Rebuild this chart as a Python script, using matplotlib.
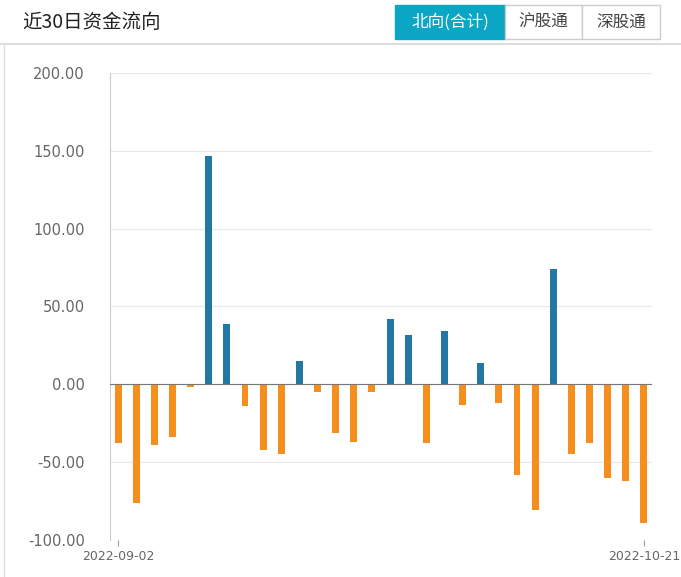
import matplotlib.pyplot as plt
from matplotlib.patches import Rectangle

plt.rcParams['font.family'] = ['Noto Sans CJK SC', 'DejaVu Sans']

values = [-38, -76, -39, -34, -2, 147, 39, -14, -42, -45, 15, -5, -31, -37, -5,
          42, 32, -38, 34, -13, 14, -12, -58, -81, 74, -45, -38, -60, -62, -89]
yticks = [-100, 0, 50, 100, 150, 200]
first_date = '2022-09-02'
last_date = '2022-10-21'

fig = plt.figure(figsize=(6.81, 5.77), dpi=100)
ax = fig.add_axes([110/681, 1-540/577, 542/681, 467/577])

x = list(range(len(values)))
colors = ['#2277a4' if v > 0 else '#f68e1e' for v in values]
ax.bar(x, values, width=0.38, color=colors, zorder=3)
ax.axhline(0, color='#777777', lw=0.8, zorder=4)

ax.set_ylim(-100, 200)
ax.set_xlim(-0.45, len(values) - 0.55)
ax.set_yticks([-100, -50, 0, 50, 100, 150, 200])
ax.set_yticklabels(['%.2f' % t for t in [-100, -50, 0, 50, 100, 150, 200]],
                   color='#666666', fontsize=10.5, fontfamily='DejaVu Sans')
ax.set_xticks([0, len(values) - 1])
ax.set_xticklabels([first_date, last_date], color='#666666', fontsize=9, fontfamily='DejaVu Sans')
ax.grid(axis='y', color='#e6e8ee', lw=0.8, zorder=0)
for s in ['top', 'right', 'bottom']:
    ax.spines[s].set_visible(False)
ax.spines['left'].set_color('#cccccc')
ax.tick_params(axis='y', length=0, pad=18)
ax.tick_params(axis='x', length=4, color='#999999')

# header
fig.text(22/681, 1-22/577, '近30日资金流向', fontsize=14, va='center', color='#222222')
fig.add_artist(plt.Line2D([0, 1], [1-44/577, 1-44/577], color='#dddddd', lw=1.5))
fig.add_artist(plt.Line2D([4/681, 4/681], [0, 1-44/577], color='#dddddd', lw=1))
buttons = [('北向(合计)', 395, 505, True), ('沪股通', 505, 582, False), ('深股通', 582, 660, False)]
for label, x0, x1, active in buttons:
    fig.add_artist(Rectangle((x0/681, 1-39/577), (x1-x0)/681, 34/577,
                             facecolor='#0aa6c4' if active else 'white',
                             edgecolor='#0aa6c4' if active else '#cccccc', lw=1))
    fig.text((x0+x1)/2/681, 1-22/577, label, ha='center', va='center', fontsize=12,
             color='white' if active else '#444444')

fig.savefig('out.png', dpi=100)
